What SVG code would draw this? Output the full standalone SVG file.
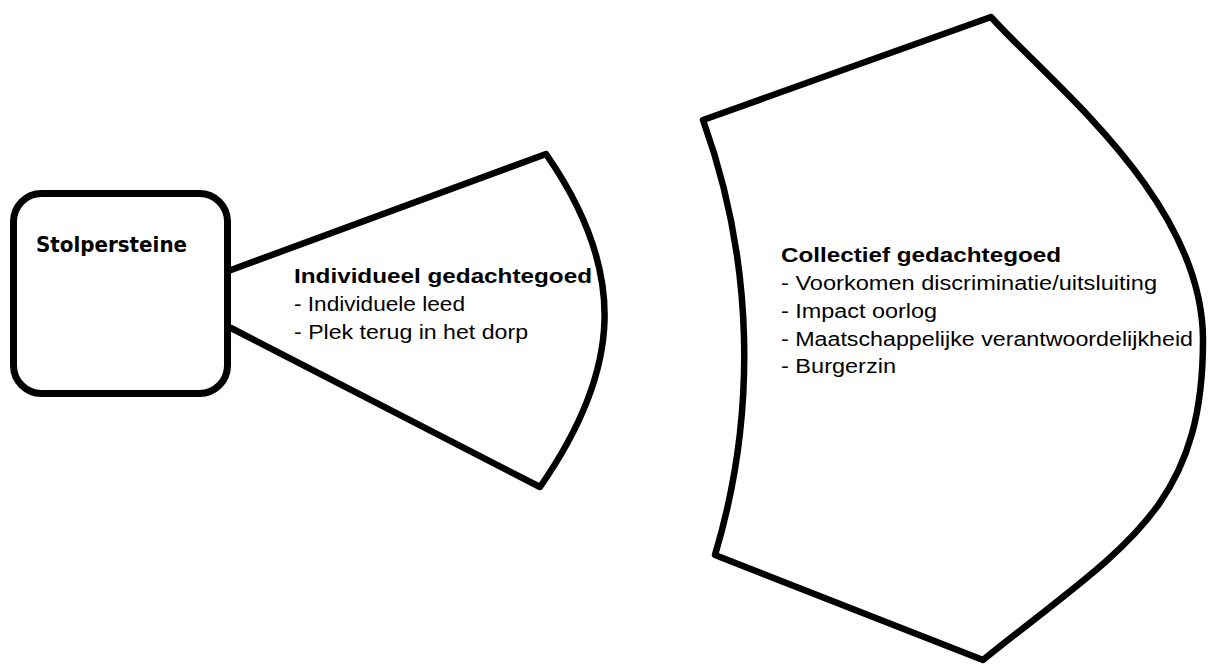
<svg xmlns="http://www.w3.org/2000/svg" width="1208" height="666" viewBox="0 0 1208 666">
  <style>
    .outline { fill: #ffffff; stroke: #000000; stroke-width: 7; stroke-linejoin: round; stroke-linecap: round; }
    .fan { fill: none; stroke: #000000; stroke-width: 6.5; stroke-linejoin: round; stroke-linecap: round; }
    .head { font-family: "Liberation Sans", Arial, sans-serif; font-weight: bold; font-size: 20px; fill: #000000; }
    .item { font-family: "Liberation Sans", Arial, sans-serif; font-size: 20px; fill: #000000; }
    .box-title { font-family: "DejaVu Sans", Verdana, sans-serif; font-weight: bold; font-size: 21px; fill: #000000; }
  </style>
  <rect width="1208" height="666" fill="#ffffff"/>

  <g id="node-stolpersteine">
    <rect class="outline" x="13.5" y="193.5" width="214" height="200" rx="28" ry="28"/>
    <text class="box-title" x="36" y="252" textLength="151" lengthAdjust="spacingAndGlyphs">Stolpersteine</text>
  </g>

  <g id="node-individueel">
    <path class="fan" d="M231,270 L546,154 C628,272 622,369 540,487 L231,328"/>
    <text class="head" x="294" y="283" textLength="298" lengthAdjust="spacingAndGlyphs">Individueel gedachtegoed</text>
    <text class="item" x="294" y="311" textLength="171" lengthAdjust="spacingAndGlyphs">- Individuele leed</text>
    <text class="item" x="294" y="339" textLength="234" lengthAdjust="spacingAndGlyphs">- Plek terug in het dorp</text>
  </g>

  <g id="node-collectief">
    <path class="fan" d="M991,17 L703,120 A694,694 0 0 1 715,555 L983,660 C1123,547 1203,510 1203,340 C1203,200 1050,83 991,17 Z"/>
    <text class="head" x="781" y="262" textLength="280" lengthAdjust="spacingAndGlyphs">Collectief gedachtegoed</text>
    <text class="item" x="781" y="290" textLength="376" lengthAdjust="spacingAndGlyphs">- Voorkomen discriminatie/uitsluiting</text>
    <text class="item" x="781" y="318" textLength="156" lengthAdjust="spacingAndGlyphs">- Impact oorlog</text>
    <text class="item" x="781" y="346" textLength="412" lengthAdjust="spacingAndGlyphs">- Maatschappelijke verantwoordelijkheid</text>
    <text class="item" x="781" y="373" textLength="115" lengthAdjust="spacingAndGlyphs">- Burgerzin</text>
  </g>

  <g id="connectors"/>
</svg>
